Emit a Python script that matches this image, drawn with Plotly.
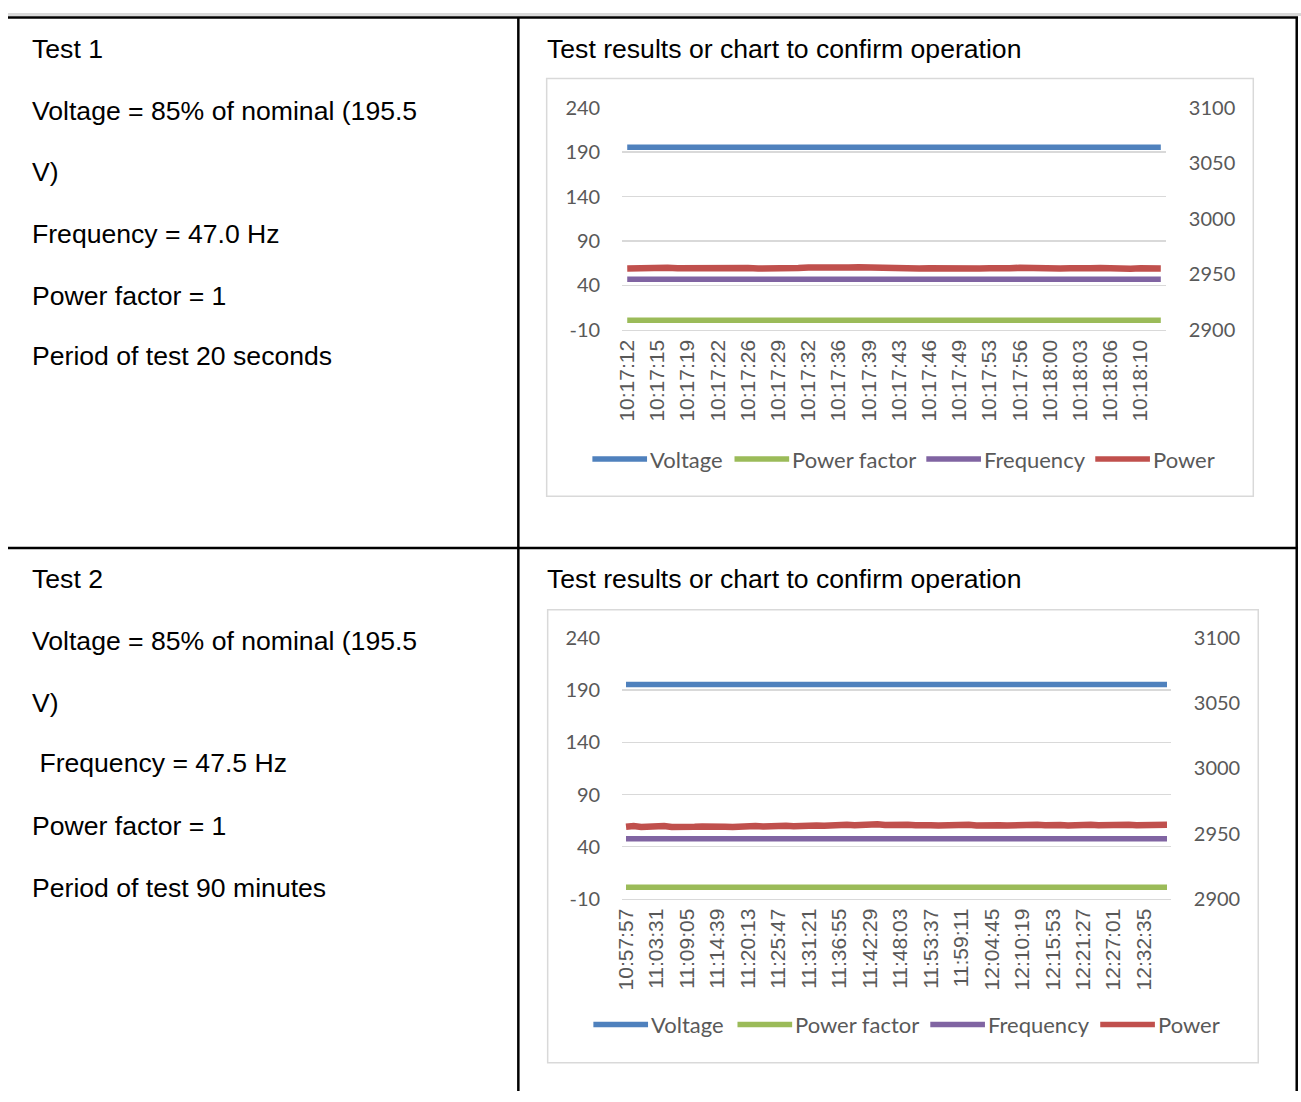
import plotly.graph_objects as go

# ---------------- data ----------------
series_names = ["Voltage", "Power factor", "Frequency", "Power"]
series_colors = ["#4f81bd", "#9bbb59", "#8064a2", "#c0504d"]

# Test 1 (labels every 3rd sample)
time_labels_1 = ["10:17:12", "10:17:15", "10:17:19", "10:17:22", "10:17:26", "10:17:29",
                 "10:17:32", "10:17:36", "10:17:39", "10:17:43", "10:17:46", "10:17:49",
                 "10:17:53", "10:17:56", "10:18:00", "10:18:03", "10:18:06", "10:18:10"]
power_1 = [2955.3, 2955.7, 2955.1, 2955.5, 2955.9, 2955.4, 2955.6, 2955.2, 2955.8, 2955.5,
           2955.0, 2955.4, 2955.7, 2955.3, 2955.1, 2955.5, 2956.0, 2955.7, 2956.2, 2955.9,
           2956.3, 2955.8, 2956.1, 2956.4, 2956.0, 2955.7, 2956.1, 2955.9, 2955.5, 2955.2,
           2955.6, 2955.3, 2955.0, 2955.4, 2955.8, 2955.3, 2955.6, 2955.1, 2955.5, 2955.9,
           2955.4, 2955.1, 2955.7, 2955.3, 2955.6, 2955.0, 2955.4, 2955.8, 2955.2, 2955.5,
           2955.1, 2955.4, 2955.7, 2955.3]
voltage_1 = [195.5, 195.5, 195.5, 195.5, 195.5, 195.5, 195.5, 195.5, 195.5, 195.5,
             195.5, 195.5, 195.5, 195.5, 195.5, 195.5, 195.5, 195.5, 195.5, 195.5,
             195.5, 195.5, 195.5, 195.5, 195.5, 195.5, 195.5, 195.5, 195.5, 195.5,
             195.5, 195.5, 195.5, 195.5, 195.5, 195.5, 195.5, 195.5, 195.5, 195.5,
             195.5, 195.5, 195.5, 195.5, 195.5, 195.5, 195.5, 195.5, 195.5, 195.5,
             195.5, 195.5, 195.5, 195.5]
pf_1 = [1, 1, 1, 1, 1, 1, 1, 1, 1, 1, 1, 1, 1, 1, 1, 1, 1, 1,
        1, 1, 1, 1, 1, 1, 1, 1, 1, 1, 1, 1, 1, 1, 1, 1, 1, 1,
        1, 1, 1, 1, 1, 1, 1, 1, 1, 1, 1, 1, 1, 1, 1, 1, 1, 1]
freq_1 = [47.0, 47.0, 47.0, 47.0, 47.0, 47.0, 47.0, 47.0, 47.0, 47.0,
          47.0, 47.0, 47.0, 47.0, 47.0, 47.0, 47.0, 47.0, 47.0, 47.0,
          47.0, 47.0, 47.0, 47.0, 47.0, 47.0, 47.0, 47.0, 47.0, 47.0,
          47.0, 47.0, 47.0, 47.0, 47.0, 47.0, 47.0, 47.0, 47.0, 47.0,
          47.0, 47.0, 47.0, 47.0, 47.0, 47.0, 47.0, 47.0, 47.0, 47.0,
          47.0, 47.0, 47.0, 47.0]

# Test 2 (labels every 4th sample)
time_labels_2 = ["10:57:57", "11:03:31", "11:09:05", "11:14:39", "11:20:13", "11:25:47",
                 "11:31:21", "11:36:55", "11:42:29", "11:48:03", "11:53:37", "11:59:11",
                 "12:04:45", "12:10:19", "12:15:53", "12:21:27", "12:27:01", "12:32:35"]
power_2 = [2955.2, 2955.8, 2955.0, 2955.6, 2955.3, 2955.9, 2955.1, 2955.5, 2955.8, 2955.2,
           2955.4, 2955.0, 2955.6, 2955.3, 2955.1, 2955.7, 2955.4, 2955.8, 2955.5, 2955.9,
           2955.6, 2956.0, 2955.7, 2956.2, 2955.9, 2956.3, 2956.0, 2956.6, 2956.2, 2956.8,
           2956.4, 2956.9, 2956.5, 2957.1, 2956.6, 2956.9, 2956.3, 2956.7, 2956.4, 2956.8,
           2956.5, 2956.2, 2956.6, 2956.9, 2956.4, 2956.7, 2956.3, 2956.6, 2956.9, 2956.5,
           2956.2, 2956.6, 2956.8, 2956.4, 2956.7, 2956.5, 2956.9, 2956.6, 2956.3, 2956.7,
           2956.5, 2956.8, 2956.4, 2956.7, 2956.9, 2956.6, 2956.8, 2956.5, 2956.7, 2956.9,
           2956.6, 2956.8]
voltage_2 = [195.5, 195.5, 195.5, 195.5, 195.5, 195.5, 195.5, 195.5, 195.5, 195.5,
             195.5, 195.5, 195.5, 195.5, 195.5, 195.5, 195.5, 195.5, 195.5, 195.5,
             195.5, 195.5, 195.5, 195.5, 195.5, 195.5, 195.5, 195.5, 195.5, 195.5,
             195.5, 195.5, 195.5, 195.5, 195.5, 195.5, 195.5, 195.5, 195.5, 195.5,
             195.5, 195.5, 195.5, 195.5, 195.5, 195.5, 195.5, 195.5, 195.5, 195.5,
             195.5, 195.5, 195.5, 195.5, 195.5, 195.5, 195.5, 195.5, 195.5, 195.5,
             195.5, 195.5, 195.5, 195.5, 195.5, 195.5, 195.5, 195.5, 195.5, 195.5,
             195.5, 195.5]
pf_2 = [1, 1, 1, 1, 1, 1, 1, 1, 1, 1, 1, 1, 1, 1, 1, 1, 1, 1,
        1, 1, 1, 1, 1, 1, 1, 1, 1, 1, 1, 1, 1, 1, 1, 1, 1, 1,
        1, 1, 1, 1, 1, 1, 1, 1, 1, 1, 1, 1, 1, 1, 1, 1, 1, 1,
        1, 1, 1, 1, 1, 1, 1, 1, 1, 1, 1, 1, 1, 1, 1, 1, 1, 1]
freq_2 = [47.5, 47.5, 47.5, 47.5, 47.5, 47.5, 47.5, 47.5, 47.5, 47.5,
          47.5, 47.5, 47.5, 47.5, 47.5, 47.5, 47.5, 47.5, 47.5, 47.5,
          47.5, 47.5, 47.5, 47.5, 47.5, 47.5, 47.5, 47.5, 47.5, 47.5,
          47.5, 47.5, 47.5, 47.5, 47.5, 47.5, 47.5, 47.5, 47.5, 47.5,
          47.5, 47.5, 47.5, 47.5, 47.5, 47.5, 47.5, 47.5, 47.5, 47.5,
          47.5, 47.5, 47.5, 47.5, 47.5, 47.5, 47.5, 47.5, 47.5, 47.5,
          47.5, 47.5, 47.5, 47.5, 47.5, 47.5, 47.5, 47.5, 47.5, 47.5,
          47.5, 47.5]

left_axis_ticks = [-10, 40, 90, 140, 190, 240]
left_axis_text = ["-10", "40", "90", "140", "190", "240"]
right_axis_ticks = [2900, 2950, 3000, 3050, 3100]

left_text_1 = ["Test 1", "Voltage = 85% of nominal (195.5", "V)", "Frequency = 47.0 Hz",
               "Power factor = 1", "Period of test 20 seconds"]
left_text_2 = ["Test 2", "Voltage = 85% of nominal (195.5", "V)", "\u00a0Frequency = 47.5 Hz",
               "Power factor = 1", "Period of test 90 minutes"]
cell_title = "Test results or chart to confirm operation"

# ---------------- helpers ----------------
W, H = 1301, 1102


def px(x):
    return x / W


def py(y):
    return 1 - y / H


GRID = "#d9d9d9"
TXT = "#595959"
CAL = "Lato, Carlito, Calibri, sans-serif"
ARI = "Liberation Sans, Arial, sans-serif"
LW = 5.5

fig = go.Figure()

charts = [
    dict(x="x", y="y", y2="y2", vals=[voltage_1, pf_1, freq_1, power_1]),
    dict(x="x2", y="y3", y2="y4", vals=[voltage_2, pf_2, freq_2, power_2]),
]

for ch in charts:
    idx = list(range(len(ch["vals"][3])))
    for name, col, v in zip(series_names, series_colors, ch["vals"]):
        fig.add_trace(go.Scatter(
            x=idx, y=v, mode="lines", name=name,
            line=dict(color=col, width=(6.5 if name == "Power" else LW)),
            xaxis=ch["x"], yaxis=(ch["y2"] if name == "Power" else ch["y"]),
            showlegend=False, hoverinfo="skip"))


def xaxis_cfg(domain, n, labels, step, anchor):
    return dict(domain=domain, anchor=anchor, range=[-0.5, n - 0.5],
                tickmode="array", tickvals=list(range(0, n, step))[:len(labels)], ticktext=labels,
                tickangle=-90, tickfont=dict(family=ARI, size=21, color=TXT),
                showgrid=False, zeroline=False, showline=True, linecolor=GRID, linewidth=1.5,
                ticks="", fixedrange=True)


def yaxis_cfg(domain, anchor):
    return dict(domain=domain, anchor=anchor, range=[-10, 240],
                tickmode="array", tickvals=left_axis_ticks, ticktext=left_axis_text,
                tickfont=dict(family=CAL, size=20, color=TXT),
                showgrid=True, gridcolor=GRID, gridwidth=1.5, zeroline=False,
                showline=False, ticks="", ticklabelstandoff=21, fixedrange=True)


def yaxis2_cfg(overlay, anchor):
    return dict(overlaying=overlay, anchor=anchor, side="right", range=[2900, 3100],
                tickmode="array", tickvals=right_axis_ticks,
                tickfont=dict(family=CAL, size=20, color=TXT),
                showgrid=False, zeroline=False, showline=False, ticks="",
                ticklabelstandoff=22, fixedrange=True)


fig.update_layout(
    width=W, height=H, margin=dict(l=0, r=0, t=0, b=0),
    paper_bgcolor="white", plot_bgcolor="rgba(0,0,0,0)",
    showlegend=False, hovermode=False,
    xaxis=xaxis_cfg([px(618), px(1165)], len(power_1), time_labels_1, 3, "y"),
    yaxis=yaxis_cfg([py(324), py(96.7)], "x"),
    yaxis2=yaxis2_cfg("y", "x"),
    xaxis2=xaxis_cfg([px(618), px(1170)], len(power_2), time_labels_2, 4, "y3"),
    yaxis3=yaxis_cfg([py(905.5), py(639)], "x2"),
    yaxis4=yaxis2_cfg("y3", "x2"),
)

shapes = []
annotations = []


def hline(x0, x1, y, color="black", width=2.5):
    shapes.append(dict(type="line", xref="paper", yref="paper",
                       x0=px(x0), x1=px(x1), y0=py(y), y1=py(y),
                       line=dict(color=color, width=width)))


def vline(x, y0, y1, color="black", width=2.5):
    shapes.append(dict(type="line", xref="paper", yref="paper",
                       x0=px(x), x1=px(x), y0=py(y0), y1=py(y1),
                       line=dict(color=color, width=width)))


# page strip and table borders
shapes.append(dict(type="rect", xref="paper", yref="paper", x0=0, x1=1, y0=py(3), y1=1,
                   fillcolor="#d9d9d9", line=dict(width=0)))
hline(0, 1298, 4.7)
hline(0, 1298, 547)
vline(513.5, 4, 1102)
vline(1296.7, 4, 1102)

# chart boxes
for (x0, y0, x1, y1) in [(542, 67, 1253, 494), (543, 610, 1258, 1073)]:
    shapes.append(dict(type="rect", xref="paper", yref="paper",
                       x0=px(x0), x1=px(x1), y0=py(y1), y1=py(y0),
                       line=dict(color=GRID, width=1.5), fillcolor="rgba(0,0,0,0)"))

# manual legends
legend_specs = [
    (456, [588, 731, 924, 1094]),
    (1034, [589, 734, 928, 1099]),
]
for ly, xs in legend_specs:
    for name, col, lx in zip(series_names, series_colors, xs):
        hline(lx, lx + 55, ly, color=col, width=LW)
        annotations.append(dict(xref="paper", yref="paper", x=px(lx + 56), y=py(ly),
                                xanchor="left", yanchor="middle", showarrow=False,
                                text=name, font=dict(family=CAL, size=22, color=TXT)))

# cell texts
row_y_1 = [37, 100, 163, 226, 289, 351]
row_y_2 = [579, 642, 705, 767, 831, 894]
for texts, ys in [(left_text_1, row_y_1), (left_text_2, row_y_2)]:
    for t, y in zip(texts, ys):
        annotations.append(dict(xref="paper", yref="paper", x=px(22), y=py(y),
                                xanchor="left", yanchor="middle", showarrow=False,
                                text=t, font=dict(family=ARI, size=26.6, color="black")))
for y in [37, 579]:
    annotations.append(dict(xref="paper", yref="paper", x=px(540), y=py(y),
                            xanchor="left", yanchor="middle", showarrow=False,
                            text=cell_title, font=dict(family=ARI, size=26.6, color="black")))

fig.update_layout(shapes=shapes, annotations=annotations)

fig.write_html("out.html", config={"displayModeBar": False, "staticPlot": True})
